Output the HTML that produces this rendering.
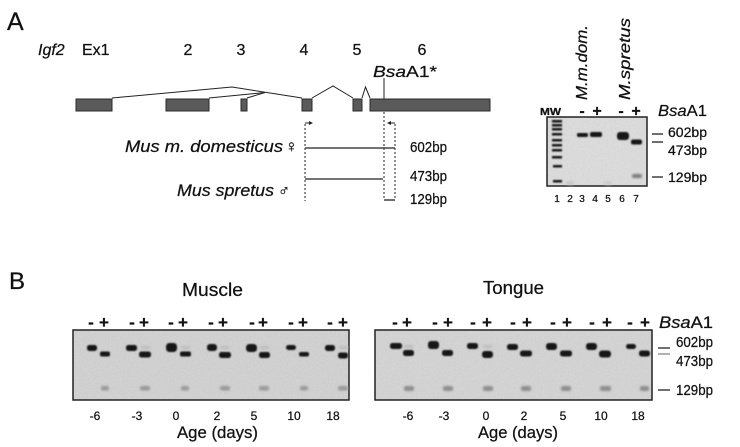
<!DOCTYPE html>
<html><head><meta charset="utf-8"><style>
html,body{margin:0;padding:0;background:#fff;}
svg{display:block;}
text{font-family:"Liberation Sans","DejaVu Sans",sans-serif;fill:#111;stroke:#111;stroke-width:0.25;}
</style></head><body>
<svg width="740" height="447" viewBox="0 0 740 447" xmlns="http://www.w3.org/2000/svg">
<defs>
<filter id="b" x="-50%" y="-150%" width="200%" height="400%"><feGaussianBlur stdDeviation="0.7"/></filter>
<filter id="bf" x="-50%" y="-150%" width="200%" height="400%"><feGaussianBlur stdDeviation="1.1"/></filter>
<filter id="nz" x="0" y="0" width="100%" height="100%">
<feTurbulence type="fractalNoise" baseFrequency="0.6" numOctaves="2" seed="3" result="t"/>
<feColorMatrix in="t" type="matrix" values="0 0 0 0 0  0 0 0 0 0  0 0 0 0 0  0 0 0 0.12 0" result="n"/>
<feComposite in="n" in2="SourceGraphic" operator="in" result="m"/>
<feMerge><feMergeNode in="SourceGraphic"/><feMergeNode in="m"/></feMerge>
</filter>
</defs>
<rect width="740" height="447" fill="#fff"/>

<!-- Panel A -->
<text x="7" y="30" font-size="25">A</text>
<text x="38" y="55" font-size="16" font-style="italic">Igf2</text>
<text x="82" y="55" font-size="16">Ex1</text>
<text x="188" y="55" font-size="16" text-anchor="middle">2</text>
<text x="241" y="55" font-size="16" text-anchor="middle">3</text>
<text x="304" y="55" font-size="16" text-anchor="middle">4</text>
<text x="357" y="55" font-size="16" text-anchor="middle">5</text>
<text x="422" y="55" font-size="16" text-anchor="middle">6</text>
<text x="373" y="77" font-size="16" textLength="64" lengthAdjust="spacingAndGlyphs"><tspan font-style="italic">Bsa</tspan>A1*</text>

<!-- splice lines -->
<g stroke="#222" stroke-width="1" fill="none">
<polyline points="112,98 232,87 302,98"/>
<polyline points="209,98 265,92.5"/>
<polyline points="247,98 265,92.5"/>
<polyline points="312,98 333,86 353,98"/>
<polyline points="362,98 365.5,87 370,98"/>
<line x1="384" y1="78" x2="384" y2="99"/>
</g>
<!-- exons -->
<g fill="#5a5a5a" stroke="#2a2a2a" stroke-width="1">
<rect x="76" y="99" width="36" height="12"/>
<rect x="166" y="99" width="43" height="12"/>
<rect x="241" y="99" width="6" height="12"/>
<rect x="302" y="99" width="10" height="12"/>
<rect x="353" y="99" width="9" height="12"/>
<rect x="370" y="99" width="120" height="12"/>
</g>

<!-- primers / dotted -->
<g stroke="#222" stroke-width="1" fill="none" stroke-dasharray="2,2">
<line x1="305" y1="124" x2="305" y2="201"/>
<line x1="395" y1="124" x2="395" y2="199"/>
<line x1="384" y1="112" x2="384" y2="199"/>
</g>
<g stroke="#222" stroke-width="1" fill="#222">
<line x1="305" y1="123" x2="310" y2="123"/>
<polygon points="313,123 309,121 309,125" stroke="none"/>
<line x1="395" y1="123" x2="390" y2="123"/>
<polygon points="387,123 391,121 391,125" stroke="none"/>
</g>
<g stroke="#222" stroke-width="1.3">
<line x1="305" y1="148" x2="395" y2="148"/>
<line x1="305" y1="179" x2="383" y2="179"/>
<line x1="384" y1="200" x2="395" y2="200"/>
</g>
<text x="125" y="152" font-size="17" font-style="italic" textLength="158" lengthAdjust="spacingAndGlyphs">Mus m. domesticus</text>
<text x="285" y="152" font-size="17">♀</text>
<text x="177" y="196" font-size="17" font-style="italic" textLength="97" lengthAdjust="spacingAndGlyphs">Mus spretus</text>
<text x="278" y="196" font-size="16">♂</text>
<text x="410" y="152" font-size="15" textLength="37" lengthAdjust="spacingAndGlyphs">602bp</text>
<text x="410" y="181" font-size="15" textLength="37" lengthAdjust="spacingAndGlyphs">473bp</text>
<text x="410" y="204" font-size="15" textLength="37" lengthAdjust="spacingAndGlyphs">129bp</text>

<!-- Right gel panel A -->
<text transform="translate(587,100) rotate(-90)" font-size="16" font-style="italic" textLength="75" lengthAdjust="spacingAndGlyphs">M.m.dom.</text>
<text transform="translate(630,100) rotate(-90)" font-size="16" font-style="italic" textLength="82" lengthAdjust="spacingAndGlyphs">M.spretus</text>
<text x="540" y="115" font-size="10" font-weight="bold" textLength="21" lengthAdjust="spacingAndGlyphs">MW</text>
<g font-size="16" font-weight="bold" text-anchor="middle">
<text x="582" y="116">-</text><text x="597" y="116">+</text>
<text x="621" y="116">-</text><text x="636" y="116">+</text>
</g>
<text x="658" y="116" font-size="16" textLength="49" lengthAdjust="spacingAndGlyphs"><tspan font-style="italic">Bsa</tspan>A1</text>
<rect x="547" y="117" width="100" height="69" fill="#e0e0e0" filter="url(#nz)"/>
<rect x="547" y="117" width="100" height="69" fill="none" stroke="#222" stroke-width="1.5"/>
<g fill="#151515" filter="url(#b)">
<rect x="552" y="120" width="10" height="2.5"/>
<rect x="552" y="124" width="10" height="2.5"/>
<rect x="552" y="128" width="10" height="2.5"/>
<rect x="552" y="133" width="10" height="2.5"/>
<rect x="552" y="139" width="10" height="2.5"/>
<rect x="552" y="144" width="10" height="2.5"/>
<rect x="552" y="149" width="10" height="2.5"/>
<rect x="552" y="156" width="10" height="2.5"/>
<rect x="553" y="165" width="9" height="2.5"/>
<rect x="553" y="180" width="9" height="2.5"/>
<rect x="577" y="133" width="11" height="4" rx="1.5"/>
<rect x="590" y="132" width="12" height="5" rx="2"/>
<rect x="617" y="132" width="12" height="8" rx="3"/>
<rect x="631" y="139.5" width="11" height="5" rx="2"/>
</g>
<rect x="632" y="174" width="10" height="4" rx="2" fill="#7a7a7a" filter="url(#bf)"/>
<rect x="566" y="181" width="8" height="4" rx="2" fill="#c8c8c8" filter="url(#bf)"/>
<rect x="604" y="181" width="8" height="4" rx="2" fill="#cccccc" filter="url(#bf)"/>
<g stroke="#222" stroke-width="1.3">
<line x1="652" y1="134" x2="663" y2="134"/>
<line x1="652" y1="142" x2="663" y2="142"/>
<line x1="652" y1="177" x2="663" y2="177"/>
</g>
<text x="668" y="137" font-size="14" textLength="39" lengthAdjust="spacingAndGlyphs">602bp</text>
<text x="668" y="155" font-size="14" textLength="39" lengthAdjust="spacingAndGlyphs">473bp</text>
<text x="668" y="182" font-size="14" textLength="39" lengthAdjust="spacingAndGlyphs">129bp</text>
<g font-size="10" text-anchor="middle">
<text x="557" y="202">1</text><text x="570" y="202">2</text><text x="582" y="202">3</text>
<text x="595" y="202">4</text><text x="608" y="202">5</text><text x="622" y="202">6</text><text x="636" y="202">7</text>
</g>

<!-- Panel B -->
<text x="9" y="289" font-size="24">B</text>
<text x="182" y="296" font-size="18" textLength="61" lengthAdjust="spacingAndGlyphs">Muscle</text>
<text x="483" y="294" font-size="18" textLength="61" lengthAdjust="spacingAndGlyphs">Tongue</text>

<!-- Muscle -->
<g font-size="17" font-weight="bold" text-anchor="middle">
<text x="91" y="328">-</text><text x="104" y="328">+</text>
<text x="132" y="328">-</text><text x="144" y="328">+</text>
<text x="171" y="328">-</text><text x="183" y="328">+</text>
<text x="211" y="328">-</text><text x="223" y="328">+</text>
<text x="252" y="328">-</text><text x="263" y="328">+</text>
<text x="291" y="328">-</text><text x="303" y="328">+</text>
<text x="330" y="328">-</text><text x="343" y="328">+</text>
</g>
<rect x="73" y="330" width="276" height="70" fill="#d6d6d6" filter="url(#nz)"/>
<rect x="73" y="330" width="276" height="70" fill="none" stroke="#222" stroke-width="1.5"/>
<g fill="#bdbdbd" filter="url(#bf)">
<rect x="141" y="346" width="9" height="3"/><rect x="181" y="346" width="9" height="3"/>
<rect x="220" y="346" width="9" height="3"/><rect x="260" y="346" width="9" height="3"/>
<rect x="339" y="346" width="9" height="3"/>
</g>
<g fill="#121212" filter="url(#b)">
<rect x="87" y="345" width="10" height="6" rx="2.5"/>
<rect x="126" y="345" width="11" height="6" rx="2.5"/>
<rect x="166" y="343" width="11" height="9" rx="3.5"/>
<rect x="207" y="344" width="10" height="7" rx="3"/>
<rect x="246" y="344" width="11" height="8" rx="3.5"/>
<rect x="286" y="345" width="10" height="5" rx="2.5"/>
<rect x="325" y="345" width="10" height="6" rx="2.5"/>
<rect x="100" y="351.5" width="10" height="5" rx="2"/>
<rect x="139" y="351.5" width="12" height="6" rx="2.5"/>
<rect x="180" y="351.5" width="11" height="5" rx="2"/>
<rect x="219" y="352" width="12" height="6" rx="2.5"/>
<rect x="259" y="352" width="11" height="6" rx="2.5"/>
<rect x="299" y="352" width="10" height="4.5" rx="2"/>
<rect x="338" y="352.5" width="10" height="6" rx="2.5"/>
</g>
<g fill="#9a9a9a" filter="url(#bf)">
<rect x="101" y="386" width="8" height="4.5" rx="2"/>
<rect x="140" y="386" width="10" height="4.5" rx="2"/>
<rect x="181" y="386" width="8" height="4.5" rx="2"/>
<rect x="220" y="386" width="10" height="4.5" rx="2"/>
<rect x="259" y="386" width="10" height="4.5" rx="2"/>
<rect x="300" y="386" width="8" height="4.5" rx="2"/>
<rect x="338" y="386" width="10" height="4.5" rx="2"/>
</g>
<g font-size="12" text-anchor="middle">
<text x="95" y="420">-6</text><text x="137" y="420">-3</text><text x="176" y="420">0</text>
<text x="217" y="420">2</text><text x="254" y="420">5</text><text x="294" y="420">10</text><text x="333" y="420">18</text>
</g>
<text x="177" y="438" font-size="17" textLength="81" lengthAdjust="spacingAndGlyphs">Age (days)</text>

<!-- Tongue -->
<g font-size="17" font-weight="bold" text-anchor="middle">
<text x="395" y="328">-</text><text x="407" y="328">+</text>
<text x="435" y="328">-</text><text x="448" y="328">+</text>
<text x="473" y="328">-</text><text x="487" y="328">+</text>
<text x="513" y="328">-</text><text x="527" y="328">+</text>
<text x="553" y="328">-</text><text x="567" y="328">+</text>
<text x="592" y="328">-</text><text x="607" y="328">+</text>
<text x="630" y="328">-</text><text x="645" y="328">+</text>
</g>
<text x="659" y="328" font-size="17" textLength="54" lengthAdjust="spacingAndGlyphs"><tspan font-style="italic">Bsa</tspan>A1</text>
<rect x="375" y="330" width="277" height="70" fill="#d8d8d8" filter="url(#nz)"/>
<rect x="375" y="330" width="277" height="70" fill="none" stroke="#222" stroke-width="1.5"/>
<g fill="#bdbdbd" filter="url(#bf)">
<rect x="404" y="345" width="9" height="3"/><rect x="483" y="345" width="9" height="3"/>
</g>
<g fill="#121212" filter="url(#b)">
<rect x="390" y="343" width="12" height="6" rx="2.5"/>
<rect x="428" y="341" width="11" height="8" rx="3"/>
<rect x="467" y="343" width="11" height="6" rx="2.5"/>
<rect x="507" y="344" width="11" height="6" rx="2.5"/>
<rect x="546" y="343" width="11" height="7" rx="3"/>
<rect x="586" y="343" width="11" height="7" rx="3"/>
<rect x="626" y="344" width="10" height="5" rx="2.5"/>
<rect x="403" y="350" width="11" height="6" rx="2.5"/>
<rect x="442" y="350" width="11" height="6" rx="2.5"/>
<rect x="482" y="351" width="11" height="7" rx="3"/>
<rect x="520" y="350.5" width="12" height="6" rx="2.5"/>
<rect x="560" y="350.5" width="12" height="6" rx="2.5"/>
<rect x="599" y="350.5" width="12" height="7" rx="3"/>
<rect x="639" y="350.5" width="11" height="6" rx="2.5"/>
</g>
<g fill="#8e8e8e" filter="url(#bf)">
<rect x="404" y="386" width="10" height="5" rx="2"/>
<rect x="443" y="386" width="10" height="5" rx="2"/>
<rect x="483" y="386" width="10" height="5" rx="2"/>
<rect x="521" y="386" width="10" height="5" rx="2"/>
<rect x="561" y="386" width="10" height="5" rx="2"/>
<rect x="600" y="386" width="11" height="5" rx="2"/>
<rect x="640" y="386" width="9" height="5" rx="2"/>
</g>
<g stroke-width="1.3">
<line x1="658" y1="348" x2="670" y2="348" stroke="#222"/>
<line x1="658" y1="354" x2="670" y2="354" stroke="#888"/>
<line x1="658" y1="390" x2="670" y2="390" stroke="#222"/>
</g>
<text x="676" y="347" font-size="15" textLength="37" lengthAdjust="spacingAndGlyphs">602bp</text>
<text x="676" y="366" font-size="15" textLength="37" lengthAdjust="spacingAndGlyphs">473bp</text>
<text x="676" y="395" font-size="15" textLength="37" lengthAdjust="spacingAndGlyphs">129bp</text>
<g font-size="12" text-anchor="middle">
<text x="408" y="420">-6</text><text x="444" y="420">-3</text><text x="486" y="420">0</text>
<text x="524" y="420">2</text><text x="563" y="420">5</text><text x="601" y="420">10</text><text x="638" y="420">18</text>
</g>
<text x="478" y="438" font-size="17" textLength="80" lengthAdjust="spacingAndGlyphs">Age (days)</text>
</svg>
</body></html>
